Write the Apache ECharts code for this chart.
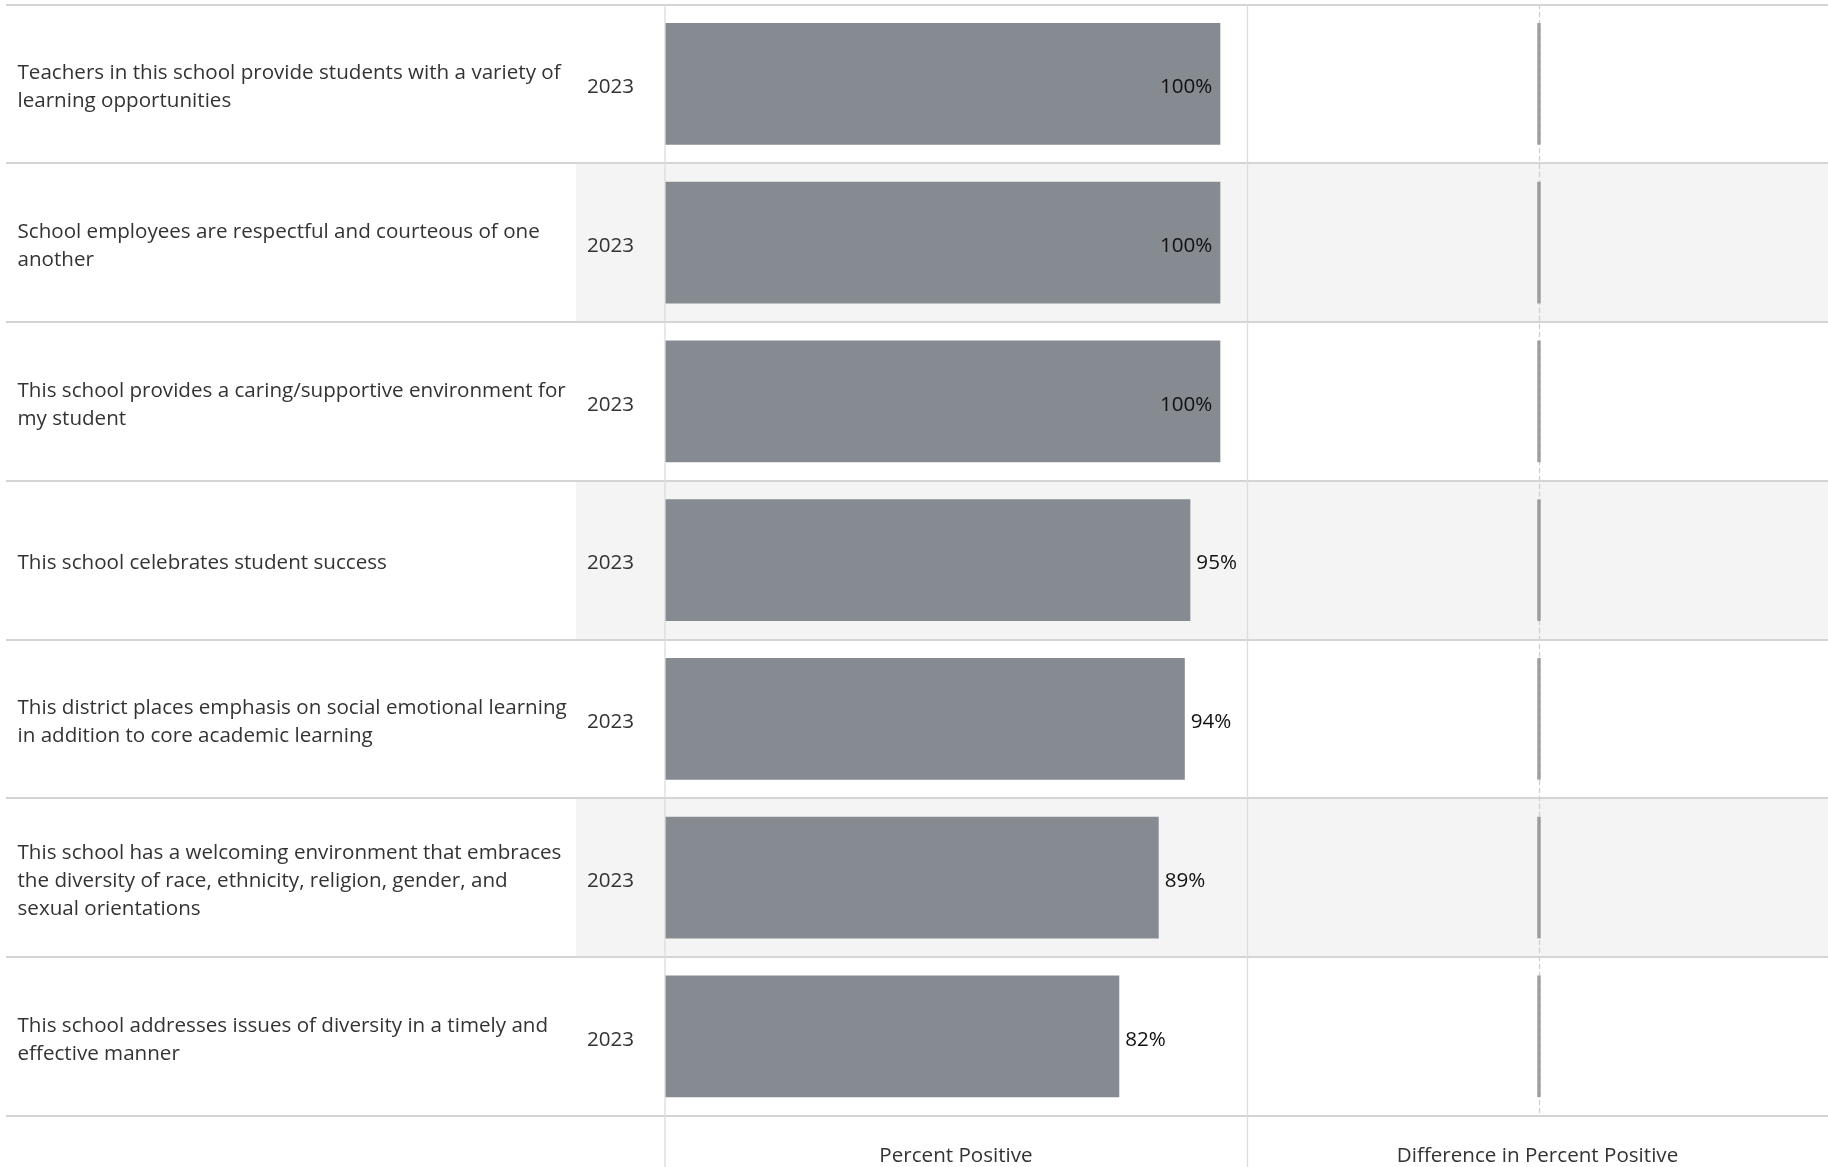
<!DOCTYPE html>
<html>
<head>
<meta charset="utf-8">
<script src="https://cdn.jsdelivr.net/npm/echarts@6/dist/echarts.min.js"></script>
<style>
html,body{margin:0;padding:0;background:#fff;}
#chart{width:1828px;height:1167px;}
</style>
</head>
<body>
<div id="chart"></div>
<script>
const categories = [
  "Teachers in this school provide students with a variety of\nlearning opportunities",
  "School employees are respectful and courteous of one\nanother",
  "This school provides a caring/supportive environment for\nmy student",
  "This school celebrates student success",
  "This district places emphasis on social emotional learning\nin addition to core academic learning",
  "This school has a welcoming environment that embraces\nthe diversity of race, ethnicity, religion, gender, and\nsexual orientations",
  "This school addresses issues of diversity in a timely and\neffective manner"
];
const years = ["2023", "2023", "2023", "2023", "2023", "2023", "2023"];
const percentPositive = [100, 100, 100, 94.6, 93.6, 88.9, 81.8];
const differenceInPercentPositive = [0, 0, 0, 0, 0, 0, 0];
const percentAxisTitle = "Percent Positive";
const differenceAxisTitle = "Difference in Percent Positive";

const FONT = "Open Sans";
const FS = 20.6;
const TEXT = "#333333";
const GRID_TOP = 4.5;
const GRID_H = 1111.2;
const TEXT_SHIFT = 3.5;

const chart = echarts.init(document.getElementById('chart'), null, {renderer: 'canvas'});

const hiddenValueAxis = (gi) => ({
  type: 'value', gridIndex: gi, show: false, min: 0, max: 1
});

const gridBase = {top: GRID_TOP, height: GRID_H, outerBoundsMode: 'none', containLabel: false};

const option = {
  backgroundColor: '#ffffff',
  textStyle: {fontFamily: FONT},
  animation: false,
  grid: [
    Object.assign({left: 6, right: 0}, gridBase),
    Object.assign({left: 576, right: 0}, gridBase),
    Object.assign({left: 665, width: 582}, gridBase),
    Object.assign({left: 1247, right: 0}, gridBase),
    {left: 665, width: 582, top: GRID_TOP + TEXT_SHIFT, height: GRID_H, outerBoundsMode: 'none', containLabel: false}
  ],
  xAxis: [
    hiddenValueAxis(0),
    hiddenValueAxis(1),
    {
      type: 'value', gridIndex: 2, min: 0, max: 104.8,
      axisLine: {show: false}, axisTick: {show: false}, axisLabel: {show: false},
      splitLine: {show: false},
      name: percentAxisTitle, nameLocation: 'middle', nameGap: 30,
      nameTextStyle: {fontFamily: FONT, fontSize: FS, color: TEXT}
    },
    {
      type: 'value', gridIndex: 3, min: -1, max: 0.99,
      axisLine: {show: false}, axisTick: {show: false}, axisLabel: {show: false},
      splitLine: {show: false},
      name: differenceAxisTitle, nameLocation: 'middle', nameGap: 30,
      nameTextStyle: {fontFamily: FONT, fontSize: FS, color: TEXT}
    },
    hiddenValueAxis(4)
  ],
  yAxis: [
    {
      type: 'category', gridIndex: 0, data: categories, inverse: true, z: 3,
      axisLine: {show: false}, axisTick: {show: false}, axisLabel: {show: false},
      splitLine: {show: true, lineStyle: {color: '#d4d4d4', width: 2}}
    },
    {
      type: 'category', gridIndex: 1, data: categories, inverse: true, z: 0,
      axisLine: {show: false}, axisTick: {show: false}, axisLabel: {show: false},
      splitLine: {show: false},
      splitArea: {show: true, areaStyle: {color: ['rgba(255,255,255,0)', '#f4f4f4']}}
    },
    {
      type: 'category', gridIndex: 2, data: categories, inverse: true, z: 2,
      axisLine: {show: false}, axisTick: {show: false}, axisLabel: {show: false},
      splitLine: {show: false}
    },
    {
      type: 'category', gridIndex: 3, data: categories, inverse: true, z: 2,
      axisLine: {show: true, onZero: true, lineStyle: {color: '#cfcfcf', width: 1.3, type: [4, 4]}},
      axisTick: {show: false}, axisLabel: {show: false},
      splitLine: {show: false}
    },
    {
      type: 'category', gridIndex: 4, data: categories, inverse: true, z: 2,
      axisLine: {show: false}, axisTick: {show: false},
      splitLine: {show: false},
      axisLabel: {
        show: true, align: 'left', margin: 647.5, interval: 0,
        fontFamily: FONT, fontSize: FS, lineHeight: 28, color: TEXT
      }
    },
    {
      type: 'category', gridIndex: 4, data: years, inverse: true, z: 2, position: 'left',
      axisLine: {show: false}, axisTick: {show: false},
      splitLine: {show: false},
      axisLabel: {
        show: true, align: 'left', margin: 78, interval: 0,
        fontFamily: FONT, fontSize: FS, color: TEXT
      }
    }
  ],
  graphic: [
    {type: 'line', z: 5, shape: {x1: 665, y1: GRID_TOP, x2: 665, y2: 1167}, style: {stroke: '#dcdcdc', lineWidth: 1.3}},
    {type: 'line', z: 5, shape: {x1: 1247.5, y1: GRID_TOP, x2: 1247.5, y2: 1167}, style: {stroke: '#dcdcdc', lineWidth: 1.3}}
  ],
  series: [
    {
      type: 'bar', xAxisIndex: 2, yAxisIndex: 2, z: 4,
      barCategoryGap: '23.4%',
      itemStyle: {color: '#858b91'},
      data: percentPositive.map(v => ({
        value: v,
        label: {
          show: true,
          position: v >= 99.5 ? 'insideRight' : 'right',
          distance: v >= 99.5 ? 8 : 6
        }
      })),
      label: {
        show: true, fontFamily: FONT, fontSize: FS, color: '#111111',
        offset: [0, TEXT_SHIFT],
        formatter: p => Math.round(p.value) + '%'
      }
    },
    {
      type: 'scatter', xAxisIndex: 3, yAxisIndex: 3, z: 4,
      symbol: 'rect', symbolSize: [3.5, 121.6],
      itemStyle: {color: '#8a8a8a'},
      data: differenceInPercentPositive.map((v, i) => [v, i])
    }
  ]
};
chart.setOption(option);
</script>
</body>
</html>
